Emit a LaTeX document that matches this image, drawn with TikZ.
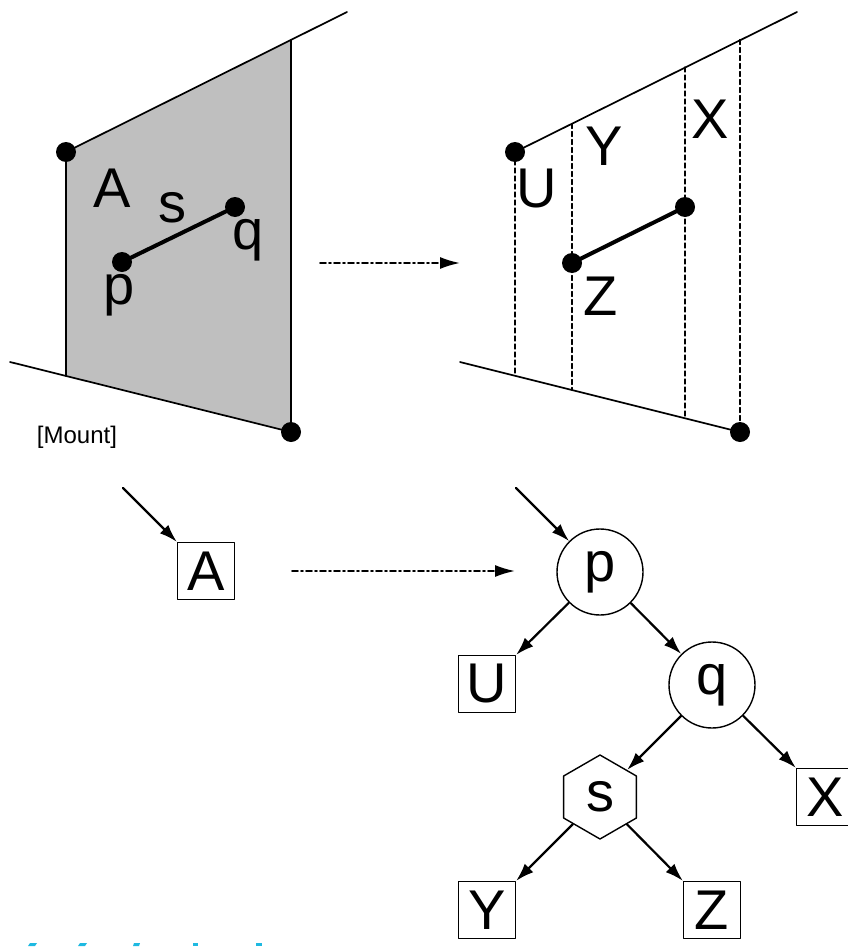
\documentclass[tikz,border=0pt]{standalone}
\usepackage{fontspec}
\setmainfont{Liberation Sans}
\usepackage{tikz}
\usetikzlibrary{arrows.meta}
\usetikzlibrary{shapes.geometric}

\definecolor{cutblue}{RGB}{30,185,225}

\begin{document}
\begin{tikzpicture}[
				x=1pt, y=-1pt,
				line cap=round,
				line join=round,
				every node/.style={font=\fontsize{56}{60}\selectfont},
				dot/.style={circle, fill=black, inner sep=0pt, minimum size=20pt},
				lbl/.style={anchor=base, inner sep=0pt},
				leaf/.style={draw, line width=1.3pt, minimum size=57pt, inner sep=0pt},
				inner/.style={draw, circle, line width=1.4pt, minimum size=86pt, inner sep=0pt},
				hexa/.style={draw, regular polygon, regular polygon sides=6, shape border rotate=30, line width=1.4pt, minimum size=84pt, inner sep=0pt},
				edge/.style={-{Latex[length=18pt,width=12pt]}, line width=2.2pt},
				mapto/.style={-{Latex[length=20pt,width=12pt]}, line width=1.9pt, dash pattern=on 6pt off 3pt on 2pt off 3pt}
				]
				\useasboundingbox (0,0) rectangle (847,950);
				
				% Shaded face on the left
				\fill[black!25] (66,152) -- (291,40) -- (291,432) -- (66,376) -- cycle;
				\draw[line width=1.7pt] (66,152) -- (347,12);
				\draw[line width=1.7pt] (10,362) -- (291,432);
				\draw[line width=1.7pt] (66,152) -- (66,376);
				\draw[line width=1.7pt] (291,40) -- (291,432);
				\node[dot] (lt) at (66,152) {};
				\node[dot] (lb) at (291,432) {};
				
				% Segment pq
				\node[dot] (p0) at (122,262) {};
				\node[dot] (q0) at (235,207) {};
				\draw[line width=4pt] (p0.center) -- (q0.center);
				
				% Labels on the face
				\node[lbl] (la) at (112,207) {A};
				\node[lbl] (ls) at (172,222) {s};
				\node[lbl] (lq) at (248,249) {q};
				\node[lbl] (lp) at (119,304) {p};
				\node[font=\fontsize{24}{27}\selectfont] (mnt) at (77,437) {[Mount]};
				
				% Map to the right
				\coordinate (top1) at (320,263);
				\coordinate (top2) at (460,263);
				\draw[mapto] (top1) -- (top2);
				
				% Trapezoid split into cells on the right
				\draw[line width=1.7pt] (515,152) -- (797,12);
				\draw[line width=1.7pt] (460,362) -- (740,432);
				\draw[dashed, line width=1.3pt, dash pattern=on 5pt off 3pt] (515,152) -- (515,375.75);
				\draw[dashed, line width=1.3pt, dash pattern=on 5pt off 3pt] (572,123.5) -- (572,390);
				\draw[dashed, line width=1.3pt, dash pattern=on 5pt off 3pt] (685,67) -- (685,418.25);
				\draw[dashed, line width=1.3pt, dash pattern=on 5pt off 3pt] (740,39.5) -- (740,432);
				\node[dot] (rt) at (515,152) {};
				\node[dot] (rb) at (740,432) {};
				\node[dot] (z0) at (572,263) {};
				\node[dot] (x0) at (685,207) {};
				\draw[line width=4pt] (z0.center) -- (x0.center);
				
				% Cell labels
				\node[lbl] (lu) at (537,207) {U};
				\node[lbl] (ly) at (604,165) {Y};
				\node[lbl] (lx) at (710,138) {X};
				\node[lbl] (lz) at (601,315) {Z};
				
				% Tree on the left
				\node[leaf] (A) at (206,571) {A};
				\coordinate (mount) at (123,488);
				\draw[edge] (mount) -- (A.north west);
				
				% Map to the tree
				\coordinate (bot1) at (292,571);
				\coordinate (bot2) at (515,571);
				\draw[mapto] (bot1) -- (bot2);
				
				% Tree on the right
				\node[inner] (p) at (600,572) {p};
				\node[leaf] (U) at (487,684) {U};
				\node[inner] (q) at (712,685) {q};
				\node[hexa] (s) at (600,797) {s};
				\node[leaf] (X) at (825,797) {X};
				\node[leaf] (Y) at (487,910) {Y};
				\node[leaf] (Z) at (712,910) {Z};
				\coordinate (root) at (516,488);
				\draw[edge] (root) -- (p);
				\draw[edge] (p) -- (U.north east);
				\draw[edge] (p) -- (q);
				\draw[edge] (q) -- (s);
				\draw[edge] (q) -- (X.north west);
				\draw[edge] (s) -- (Y.north east);
				\draw[edge] (s) -- (Z.north west);
				
				% Cut-off marks at the bottom
				\fill[cutblue] (28,946) -- (35,946) -- (37,943) -- (30,943) -- cycle;
				\fill[cutblue] (78,946) -- (85,946) -- (87,943) -- (80,943) -- cycle;
				\fill[cutblue] (133,946) -- (139,946) -- (140,943) -- (134,943) -- cycle;
				\fill[cutblue] (193,946) -- (198,946) -- (198,943) -- (193,943) -- cycle;
				\fill[cutblue] (256,946) -- (262,946) -- (262,943) -- (256,943) -- cycle;
			\end{tikzpicture}
\end{document}
